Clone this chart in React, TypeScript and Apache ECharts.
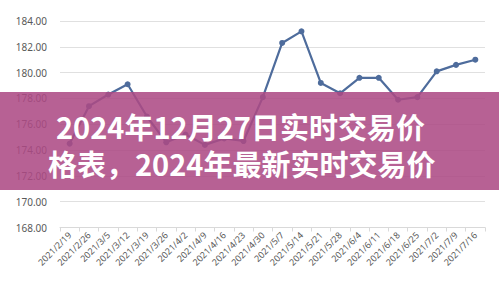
import React, { useEffect, useRef } from "react";
import * as echarts from "echarts";

// Weekly trading dates
const dates = [
  "2021/2/19", "2021/2/26", "2021/3/5", "2021/3/12", "2021/3/19", "2021/3/26",
  "2021/4/2", "2021/4/9", "2021/4/16", "2021/4/23", "2021/4/30", "2021/5/7",
  "2021/5/14", "2021/5/21", "2021/5/28", "2021/6/4", "2021/6/11", "2021/6/18",
  "2021/6/25", "2021/7/2", "2021/7/9", "2021/7/16",
];

// Weekly price
const prices = [
  174.5, 177.4, 178.3, 179.1, 176.6, 174.6, 175.2, 174.4, 174.9, 174.7, 178.1,
  182.3, 183.2, 179.2, 178.4, 179.6, 179.6, 177.9, 178.1, 180.1, 180.6, 181.0,
];

const yMin = 168;
const yMax = 184;
const yStep = 2;

const titleLines = ["2024年12月27日实时交易价", "格表，2024年最新实时交易价"];

export default function App() {
  const ref = useRef<HTMLDivElement>(null);

  useEffect(() => {
    if (!ref.current) return;
    const chart = echarts.init(ref.current, undefined, { renderer: "svg" });
    const cjk = '"Noto Sans CJK SC", "Noto Sans", sans-serif';
    const titleStyle = {
      fill: "#ffffff",
      fontSize: 29,
      fontWeight: "bold",
      fontFamily: cjk,
      verticalAlign: "middle",
    };
    chart.setOption({
      animation: false,
      backgroundColor: "#ffffff",
      grid: { left: 60, right: 14, top: 21, bottom: 56.5, containLabel: false },
      xAxis: {
        type: "category",
        data: dates,
        boundaryGap: true,
        axisLine: { lineStyle: { color: "#d9d9d9", width: 1 } },
        axisTick: { show: true, length: 4, lineStyle: { color: "#d9d9d9" } },
        axisLabel: {
          interval: 0,
          rotate: 45,
          fontSize: 9,
          color: "#595959",
          fontFamily: '"Noto Sans", sans-serif',
          margin: 6,
        },
      },
      yAxis: {
        type: "value",
        min: yMin,
        max: yMax,
        interval: yStep,
        axisLine: { show: false },
        axisTick: { show: false },
        splitLine: { lineStyle: { color: "#e0e0e0", width: 1 } },
        axisLabel: {
          formatter: (v: number) => v.toFixed(2),
          fontSize: 10,
          color: "#595959",
          fontFamily: '"Noto Sans", sans-serif',
          margin: 13,
        },
      },
      series: [
        {
          type: "line",
          data: prices,
          symbol: "circle",
          symbolSize: 6,
          lineStyle: { color: "#4e6c9c", width: 2.2 },
          itemStyle: { color: "#4e6c9c" },
          z: 2,
        },
      ],
      graphic: [
        {
          type: "rect",
          z: 100,
          shape: { x: 0, y: 92, width: 499, height: 98 },
          style: { fill: "rgba(172, 74, 132, 0.87)" },
        },
        {
          type: "text",
          z: 102,
          x: 56,
          y: 126,
          style: { text: titleLines[0], ...titleStyle },
        },
        {
          type: "text",
          z: 102,
          x: 48,
          y: 162.5,
          style: { text: titleLines[1], ...titleStyle },
        },
      ],
    });
    return () => chart.dispose();
  }, []);

  return (
    <div
      ref={ref}
      style={{ position: "fixed", left: 0, top: 0, width: 499, height: 284 }}
    />
  );
}
